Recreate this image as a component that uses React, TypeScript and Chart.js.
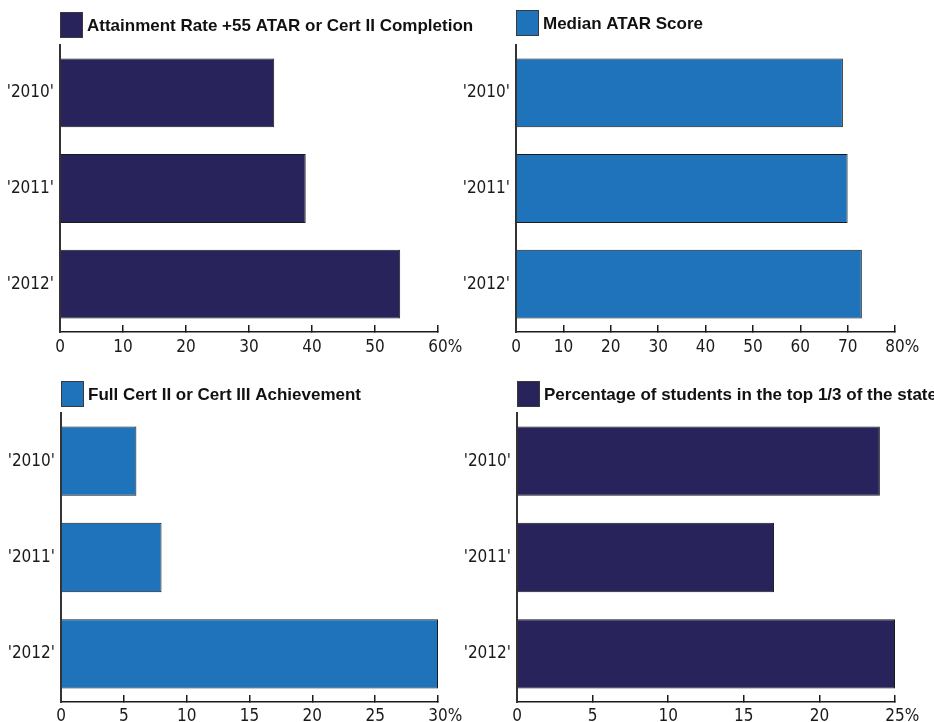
import React, { useEffect, useRef } from 'react';
import { Chart, registerables } from 'chart.js';

Chart.register(...registerables);

// ---- data ----
const YEARS = ["'2010'", "'2011'", "'2012'"];
const ATTAINMENT = [34, 39, 54];
const MEDIAN_ATAR = [69, 70, 73];
const CERT_ACHIEVEMENT = [6, 8, 30];
const TOP_THIRD = [24, 17, 25];

const TITLE_ATTAINMENT = 'Attainment Rate +55 ATAR or Cert II Completion';
const TITLE_MEDIAN = 'Median ATAR Score';
const TITLE_CERT = 'Full Cert II or Cert III Achievement';
const TITLE_TOP = 'Percentage of students in the top 1/3 of the state';

const NAVY = '#29235c';
const BLUE = '#1f73bb';
const TICK_FONT = "'Liberation Sans Narrow', 'DejaVu Sans Condensed', 'Liberation Sans', sans-serif";
const TITLE_FONT = "'Liberation Sans', Arial, sans-serif";
const INK = '#1a1a1a';

const boxTitlePlugin = {
  id: 'boxTitle',
  afterDraw(chart: any, _args: any, opts: any) {
    const ctx = chart.ctx;
    const left = chart.chartArea.left;
    const cy = opts.y;
    ctx.save();
    ctx.fillStyle = opts.color;
    ctx.fillRect(left, cy - 13, 23, 26);
    ctx.strokeStyle = '#3a3a3a';
    ctx.lineWidth = 1;
    ctx.strokeRect(left + 0.5, cy - 12.5, 22, 25);
    ctx.fillStyle = '#111';
    ctx.font = `bold 17px ${TITLE_FONT}`;
    ctx.textAlign = 'left';
    ctx.textBaseline = 'middle';
    ctx.fillText(opts.text, left + 27, cy + 1);
    ctx.restore();
  },
};

const percentPlugin = {
  id: 'pctSuffix',
  afterDraw(chart: any) {
    const scale = chart.scales.x;
    const items = scale.getLabelItems ? scale.getLabelItems() : scale._labelItems;
    if (!items || !items.length) return;
    const last = items[items.length - 1];
    const ctx = chart.ctx;
    ctx.save();
    ctx.font = last.font.string;
    ctx.fillStyle = INK;
    ctx.textAlign = 'left';
    ctx.textBaseline = last.options.textBaseline;
    const [x, y] = last.options.translation;
    const w = ctx.measureText(String(last.label)).width;
    ctx.fillText('%', x + w / 2, y + (last.textOffset || 0));
    ctx.restore();
  },
};

type PanelProps = {
  values: number[];
  title: string;
  color: string;
  max: number;
  step: number;
  left: number;
  top: number;
  width: number;
  height: number;
  yAxisWidth: number;
  padRight: number;
  padTop: number;
  xAxisHeight: number;
  legendY: number;
  labelPad: number;
};

function Panel(p: PanelProps) {
  const ref = useRef<HTMLCanvasElement | null>(null);
  useEffect(() => {
    if (!ref.current) return;
    const chart = new Chart(ref.current, {
      type: 'bar',
      data: {
        labels: YEARS,
        datasets: [
          {
            data: p.values,
            backgroundColor: p.color,
            borderColor: INK,
            borderWidth: 1,
            barPercentage: 0.72,
            categoryPercentage: 1,
          },
        ],
      },
      options: {
        indexAxis: 'y',
        responsive: false,
        animation: false,
        layout: { padding: { top: p.padTop, right: p.padRight, left: 0, bottom: 0 } },
        plugins: {
          legend: { display: false },
          tooltip: { enabled: false },
          boxTitle: { text: p.title, color: p.color, y: p.legendY },
        } as any,
        scales: {
          x: {
            type: 'linear',
            min: 0,
            max: p.max,
            afterFit: (s: any) => {
              s.height = p.xAxisHeight;
            },
            ticks: {
              stepSize: p.step,
              color: INK,
              padding: p.labelPad,
              font: { family: TICK_FONT, size: 17 },
            },
            grid: {
              display: true,
              drawOnChartArea: false,
              drawTicks: true,
              tickLength: -7,
              color: INK,
              lineWidth: 1.5,
            },
            border: { display: true, color: INK, width: 1.5 },
          },
          y: {
            type: 'category',
            afterFit: (s: any) => {
              s.width = p.yAxisWidth;
            },
            ticks: {
              color: INK,
              padding: 6,
              font: { family: TICK_FONT, size: 17 },
            },
            grid: { display: false, drawTicks: false },
            border: { display: true, color: '#333', width: 2 },
          },
        },
      } as any,
      plugins: [boxTitlePlugin, percentPlugin],
    });
    return () => chart.destroy();
  }, []);
  return (
    <canvas
      ref={ref}
      width={p.width}
      height={p.height}
      style={{ position: 'absolute', left: p.left, top: p.top, width: p.width, height: p.height }}
    />
  );
}

export default function App() {
  return (
    <div style={{ position: 'absolute', left: 0, top: 0, width: 934, height: 722, background: '#fff', overflow: 'hidden' }}>
      <Panel values={ATTAINMENT} title={TITLE_ATTAINMENT} color={NAVY} max={60} step={10}
        left={0} top={0} width={480} height={361} yAxisWidth={60} padRight={42} padTop={45}
        xAxisHeight={29} legendY={25} labelPad={12} />
      <Panel values={MEDIAN_ATAR} title={TITLE_MEDIAN} color={BLUE} max={80} step={10}
        left={460} top={0} width={474} height={361} yAxisWidth={56} padRight={39} padTop={45}
        xAxisHeight={29} legendY={23} labelPad={12} />
      <Panel values={CERT_ACHIEVEMENT} title={TITLE_CERT} color={BLUE} max={30} step={5}
        left={0} top={361} width={480} height={361} yAxisWidth={61} padRight={42} padTop={52}
        xAxisHeight={20} legendY={33} labelPad={11} />
      <Panel values={TOP_THIRD} title={TITLE_TOP} color={NAVY} max={25} step={5}
        left={460} top={361} width={474} height={361} yAxisWidth={57} padRight={39} padTop={52}
        xAxisHeight={20} legendY={33} labelPad={11} />
    </div>
  );
}
